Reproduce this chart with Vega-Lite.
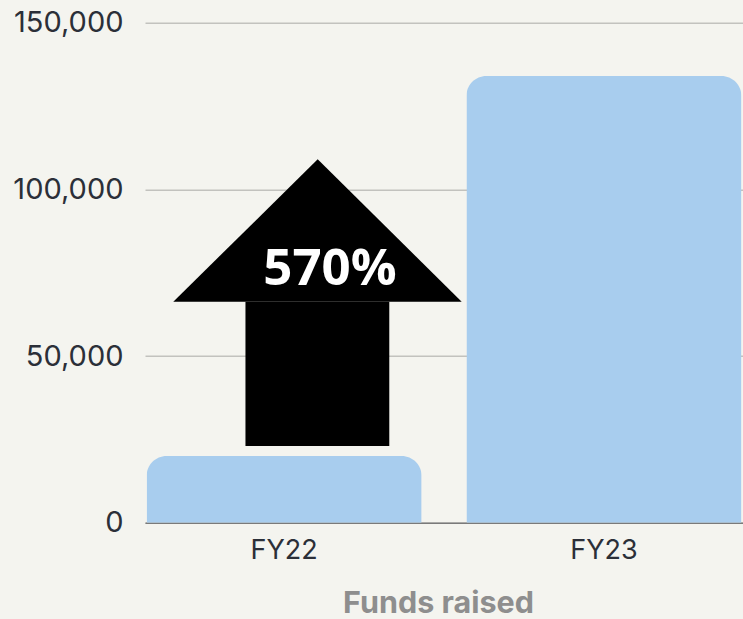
{
  "$schema": "https://vega.github.io/schema/vega-lite/v6.json",
  "autosize": {"type": "none"},
  "width": 598,
  "height": 500,
  "padding": {"left": 145, "top": 22.7, "right": 0, "bottom": 96.3},
  "background": "#f4f4ef",
  "config": {"view": {"stroke": null}},
  "datasets": {
    "bars": [
      {"year": "FY22", "funds": 20000},
      {"year": "FY23", "funds": 134000}
    ],
    "head": [
      {"px": 0.0473, "py": 66300, "base": 66300},
      {"px": 0.2888, "py": 109000, "base": 66300},
      {"px": 0.5296, "py": 66300, "base": 66300}
    ],
    "stem": [
      {"x1": 0.168, "x2": 0.4085, "y1": 23000, "y2": 66300}
    ],
    "label": [
      {"lx": 0.3094, "ly": 71300, "text": "570%"}
    ]
  },
  "layer": [
    {
      "data": {"name": "bars"},
      "mark": {"type": "bar", "color": "#a8cdee", "cornerRadiusTopLeft": 20, "cornerRadiusTopRight": 20},
      "encoding": {
        "x": {
          "field": "year", "type": "nominal", "sort": null,
          "scale": {"paddingInner": 0.14, "paddingOuter": 0.005},
          "axis": {
            "title": "Funds raised", "titleFont": "Inter", "titleFontSize": 30.5, "titleFontWeight": "bold",
            "titleColor": "#8e8e8e", "titlePadding": 25, "titleX": 293,
            "labelFont": "Inter", "labelFontSize": 27, "labelColor": "#2b2f38", "labelPadding": 15,
            "labelAngle": 0, "ticks": false, "domainColor": "#7a7a7a", "domainWidth": 1.5
          }
        },
        "y": {
          "field": "funds", "type": "quantitative",
          "scale": {"domain": [0, 150000], "nice": false},
          "axis": {
            "title": null, "values": [0, 50000, 100000, 150000], "labelExpr": "format(datum.value, ',')",
            "labelFont": "Inter", "labelFontSize": 29, "labelColor": "#2b2f38", "labelPadding": 22,
            "ticks": false, "domain": false, "gridColor": "#c2c2be", "gridWidth": 1.5
          }
        }
      }
    },
    {
      "data": {"name": "stem"},
      "mark": {"type": "rect", "color": "#000000"},
      "encoding": {
        "x": {"field": "x1", "type": "quantitative", "scale": {"domain": [0, 1], "nice": false}, "axis": null},
        "x2": {"field": "x2"},
        "y": {"field": "y1", "type": "quantitative"},
        "y2": {"field": "y2"}
      }
    },
    {
      "data": {"name": "head"},
      "mark": {"type": "area", "color": "#000000", "interpolate": "linear"},
      "encoding": {
        "x": {"field": "px", "type": "quantitative", "scale": {"domain": [0, 1], "nice": false}, "axis": null},
        "y": {"field": "py", "type": "quantitative"},
        "y2": {"field": "base"}
      }
    },
    {
      "data": {"name": "label"},
      "mark": {"type": "text", "color": "#ffffff", "font": "Open Sans", "fontWeight": "bold", "fontSize": 51, "align": "center", "baseline": "alphabetic"},
      "encoding": {
        "x": {"field": "lx", "type": "quantitative", "scale": {"domain": [0, 1], "nice": false}, "axis": null},
        "y": {"field": "ly", "type": "quantitative"},
        "text": {"field": "text"}
      }
    }
  ],
  "resolve": {"scale": {"x": "independent"}, "axis": {"x": "independent"}}
}
